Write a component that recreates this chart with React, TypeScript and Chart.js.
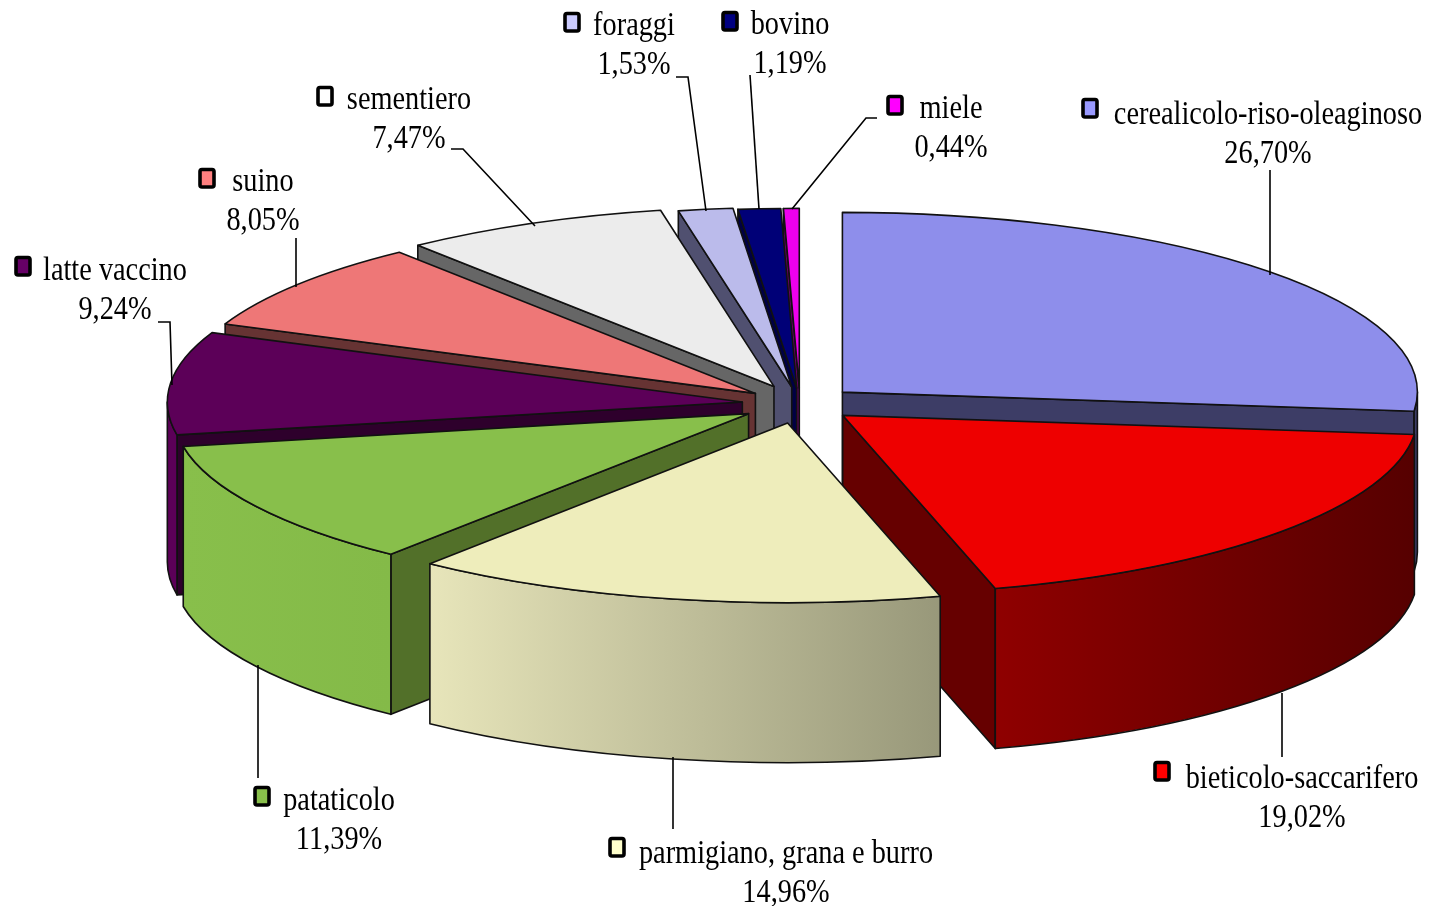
import React, { useEffect, useRef } from "react";
import { Chart, registerables } from "chart.js";

Chart.register(...registerables);

const categories = [
  "cerealicolo-riso-oleaginoso",
  "bieticolo-saccarifero",
  "parmigiano, grana e burro",
  "pataticolo",
  "latte vaccino",
  "suino",
  "sementiero",
  "foraggi",
  "bovino",
  "miele",
];
const shares = [26.7, 19.02, 14.96, 11.39, 9.24, 8.05, 7.47, 1.53, 1.19, 0.44];
const shareLabels = ["26,70%", "19,02%", "14,96%", "11,39%", "9,24%", "8,05%", "7,47%", "1,53%", "1,19%", "0,44%"];

// styling
const topColors = ["#8E8EEB", "#EE0000", "#EEEDBB", "#88BF4B", "#5C0058", "#EE7777", "#ECECEC", "#BBBBEB", "#000077", "#EE00EE"];
const cutColors = ["#3D3D66", "#660000", "#66664F", "#527029", "#2E002C", "#663333", "#666666", "#505070", "#000044", "#660066"];
const wallLeft = ["#3D3D66", "#8F0000", "#E7E5BA", "#88BF4B", "#5C0058", "#EE7777", "#ECECEC", "#BBBBEB", "#000077", "#EE00EE"];
const wallRight = ["#3D3D66", "#560000", "#98987A", "#84BA48", "#5C0058", "#EE7777", "#ECECEC", "#BBBBEB", "#000077", "#EE00EE"];
const keyColors = ["#9999FF", "#FF0000", "#FFFFCC", "#88BF4B", "#660066", "#FF8080", "#FFFFFF", "#CCCCFF", "#000080", "#FF00FF"];

// exploded-pie layout
const explode = [57, 56, 62, 60, 58, 56, 62, 55, 51, 51];
const paintOrder = [9, 8, 7, 6, 5, 0, 4, 1, 3, 2];
const SQUASH = 0.3125;
const DEPTH = 160;
const RADIUS = 575;

// annotation layout
const labelCenterX = [1268, 1302, 786, 339, 115, 263, 409, 634, 790, 951];
const labelBaseY = [124, 788, 863, 810, 280, 191, 109, 35, 34, 118];
const keyX = [1090, 1162, 617, 262, 23, 207, 325, 572, 730, 895];
const keyY = [108, 771, 847, 796, 266, 178, 96, 22, 21, 105];
const leaders: number[][][] = [
  [[1270, 170], [1270, 275]],
  [[1282, 693], [1282, 757]],
  [[673, 757], [673, 829]],
  [[258, 665], [258, 778]],
  [[158, 322], [170, 322], [172, 385]],
  [[296, 238], [296, 287]],
  [[451, 149], [463, 149], [535, 226]],
  [[676, 77], [688, 77], [706, 211]],
  [[750, 75], [759, 209]],
  [[877, 118], [866, 118], [792, 209]],
];

const OUTLINE = "#111";

const pie3d = {
  id: "pie3d",
  beforeDatasetsDraw(chart: any) {
    const ctx: CanvasRenderingContext2D = chart.ctx;
    const arcs = chart.getDatasetMeta(0).data;
    for (const i of paintOrder) {
      const el = arcs[i];
      const { x, y, startAngle: a1, endAngle: a2, outerRadius: r } = el;
      const mid = (a1 + a2) / 2;
      const cx = x + explode[i] * Math.cos(mid);
      const cy = y + SQUASH * explode[i] * Math.sin(mid);
      const px = (a: number) => cx + r * Math.cos(a);
      const py = (a: number) => cy + SQUASH * r * Math.sin(a);

      ctx.save();
      ctx.lineWidth = 1.6;
      ctx.strokeStyle = OUTLINE;
      ctx.lineJoin = "round";

      const cut = (a: number) => {
        ctx.beginPath();
        ctx.moveTo(cx, cy);
        ctx.lineTo(px(a), py(a));
        ctx.lineTo(px(a), py(a) + DEPTH);
        ctx.lineTo(cx, cy + DEPTH);
        ctx.closePath();
        ctx.fillStyle = cutColors[i];
        ctx.fill();
        ctx.stroke();
      };
      if (Math.cos(a1) < 0) cut(a1);
      if (Math.cos(a2) > 0) cut(a2);

      // outer wall: only the arc part that faces the viewer
      const f = Math.max(a1, 0);
      const t = Math.min(a2, Math.PI);
      if (t > f) {
        const x0 = Math.min(px(f), px(t));
        const x1 = Math.max(px(f), px(t));
        const grad = ctx.createLinearGradient(x0, 0, x1, 0);
        grad.addColorStop(0, wallLeft[i]);
        grad.addColorStop(1, wallRight[i]);
        ctx.beginPath();
        ctx.ellipse(cx, cy, r, SQUASH * r, 0, f, t);
        ctx.ellipse(cx, cy + DEPTH, r, SQUASH * r, 0, t, f, true);
        ctx.closePath();
        ctx.fillStyle = grad;
        ctx.fill();
        ctx.stroke();
      }

      // top face: the library's own arc element, squashed and shifted
      ctx.save();
      ctx.translate(cx - x, cy);
      ctx.scale(1, SQUASH);
      ctx.translate(0, -y);
      el.draw(ctx);
      ctx.restore();

      ctx.beginPath();
      ctx.moveTo(cx, cy);
      ctx.ellipse(cx, cy, r, SQUASH * r, 0, a1, a2);
      ctx.closePath();
      ctx.stroke();
      ctx.restore();
    }
    return false;
  },
  afterDraw(chart: any) {
    const ctx: CanvasRenderingContext2D = chart.ctx;
    ctx.save();
    ctx.strokeStyle = "#000";
    ctx.lineWidth = 1.6;
    for (const pts of leaders) {
      ctx.beginPath();
      pts.forEach((p, j) => (j ? ctx.lineTo(p[0], p[1]) : ctx.moveTo(p[0], p[1])));
      ctx.stroke();
    }
    ctx.font = '34px "Liberation Serif"';
    ctx.fillStyle = "#000";
    ctx.textAlign = "center";
    ctx.textBaseline = "alphabetic";
    const put = (s: string, xc: number, yb: number) => {
      ctx.save();
      ctx.translate(xc, yb);
      ctx.scale(0.833, 1);
      ctx.fillText(s, 0, 0);
      ctx.restore();
    };
    categories.forEach((c, i) => {
      put(c, labelCenterX[i], labelBaseY[i]);
      put(shareLabels[i], labelCenterX[i], labelBaseY[i] + 39);
      ctx.beginPath();
      ctx.roundRect(keyX[i] - 7, keyY[i] - 8.5, 14, 17.5, 2);
      ctx.fillStyle = keyColors[i];
      ctx.fill();
      ctx.strokeStyle = "#000";
      ctx.lineWidth = 3.6;
      ctx.stroke();
      ctx.fillStyle = "#000";
    });
    ctx.restore();
  },
};

export default function App() {
  const ref = useRef<HTMLCanvasElement>(null);
  useEffect(() => {
    document.body.style.margin = "0";
    const chart = new Chart(ref.current!, {
      type: "pie",
      data: {
        labels: categories,
        datasets: [
          {
            data: shares,
            backgroundColor: topColors,
            borderWidth: 0,
            radius: RADIUS,
          } as any,
        ],
      },
      options: {
        responsive: false,
        animation: false,
        layout: { padding: { left: 170, bottom: 98 } },
        plugins: { legend: { display: false }, tooltip: { enabled: false } },
      },
      plugins: [pie3d],
    } as any);
    return () => chart.destroy();
  }, []);
  return <canvas ref={ref} width={1430} height={906} style={{ display: "block" }} />;
}
